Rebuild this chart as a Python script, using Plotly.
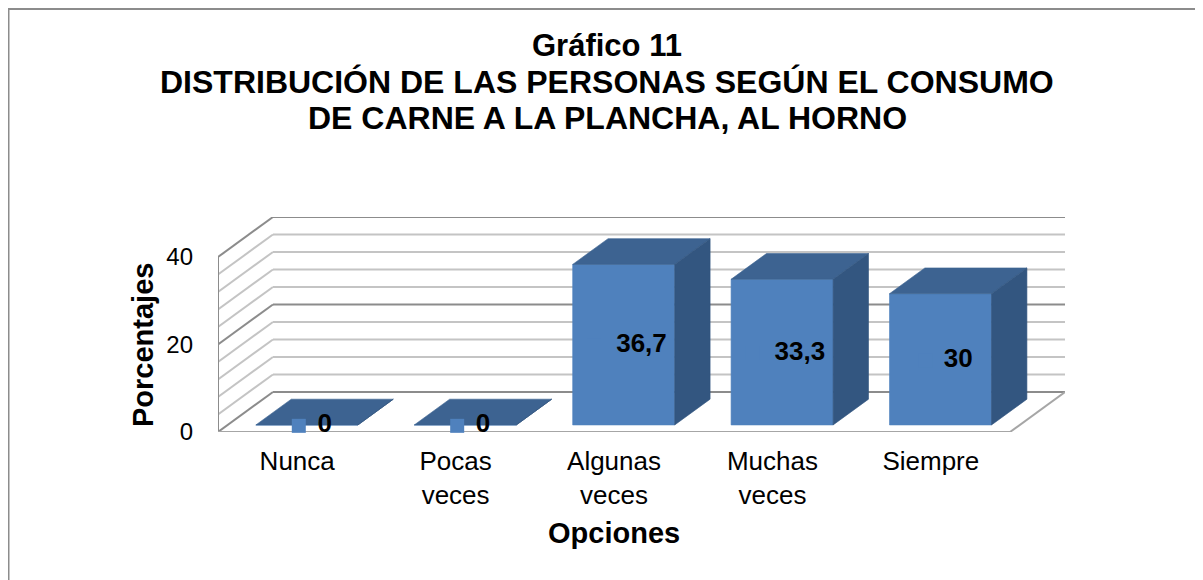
import plotly.graph_objects as go

# ---------------- data ----------------
categories = ["Nunca", "Pocas<br>veces", "Algunas<br>veces", "Muchas<br>veces", "Siempre"]
values = [0, 0, 36.7, 33.3, 30]
y_tick_values = [0, 20, 40]
y_tick_labels = ["0", "20", "40"]
grid_values = list(range(0, 41, 4))
major_grid = [0, 20, 40]
title_lines = ["Gráfico 11",
               "DISTRIBUCIÓN DE LAS PERSONAS SEGÚN EL CONSUMO",
               "DE CARNE A LA PLANCHA, AL HORNO"]
x_title = "Opciones"
y_title = "Porcentajes"

# ---------------- geometry / style ----------------
OFF = 8                        # page body margin of the html output
W, H = 1203 - OFF, 580 - OFF
ML, MT = 218 - OFF, 217 - OFF
MR, MB = W - (1065 - OFF), H - (432 - OFF)
PW, PH = W - ML - MR, H - MT - MB
DX, DY = 0.347, 9.15          # depth offset of the 3D box (data units)
F0, F1 = 0.176, 0.82          # bar depth span (fraction of box depth)
BW = 0.644                    # bar width (category units)
XMIN, XMAX = -0.5, len(categories) - 0.5 + DX
YMAX = max(grid_values) + DY
PXX = PW / (XMAX - XMIN)
PXY = PH / YMAX

FRONT = "#4F81BD"
TOP = "#3D6391"
SIDE = "#335680"
GRID_MINOR = "#C4C4C4"
GRID_MAJOR = "#8C8C8C"
FONT = "Liberation Sans, Arial, Helvetica, sans-serif"


def px2paper(px, py):
    """page pixel -> paper coordinates"""
    return (px - OFF - ML) / PW, (H - MB - (py - OFF)) / PH


fig = go.Figure()


def poly(xs, ys, color):
    fig.add_trace(go.Scatter(x=xs + [xs[0]], y=ys + [ys[0]], mode="lines", fill="toself",
                             fillcolor=color, line=dict(color=color, width=0.6),
                             hoverinfo="skip", showlegend=False))


def lines(segs, color, width=2):
    xs, ys = [], []
    for (x0, y0, x1, y1) in segs:
        xs += [x0, x1, None]
        ys += [y0, y1, None]
    fig.add_trace(go.Scatter(x=xs, y=ys, mode="lines", line=dict(color=color, width=width),
                             hoverinfo="skip", showlegend=False, cliponaxis=False))


n = len(categories)
# floor
poly([XMIN, n - 0.5, n - 0.5 + DX, XMIN + DX], [0, 0, DY, DY], "#FFFFFF")

# back wall and side wall gridlines
minor = [v for v in grid_values if v not in major_grid]
lines([(XMIN + DX, v + DY, XMAX, v + DY) for v in minor] +
      [(XMIN, v, XMIN + DX, v + DY) for v in minor], GRID_MINOR)
lines([(XMIN + DX, v + DY, XMAX, v + DY) for v in major_grid] +
      [(XMIN, v, XMIN + DX, v + DY) for v in major_grid], GRID_MAJOR)
# front vertical axis
lines([(XMIN, 0, XMIN, max(grid_values))], GRID_MAJOR)
# floor edges
lines([(XMIN, 0, n - 0.5, 0), (n - 0.5, 0, n - 0.5 + DX, DY)], "#A6A6A6")

# bars
ddx, ddy = (F1 - F0) * DX, (F1 - F0) * DY
for i, v in enumerate(values):
    xl = i + F0 * DX - BW / 2
    xr = i + F0 * DX + BW / 2
    yb = F0 * DY
    yt = yb + v
    poly([xl, xr, xr, xl], [yb, yb, yt, yt], FRONT)
    poly([xl, xr, xr + ddx, xl + ddx], [yt, yt, yt + ddy, yt + ddy], TOP)
    poly([xr, xr + ddx, xr + ddx, xr], [yb, yb + ddy, yt + ddy, yt], SIDE)

# data labels with legend key
labels = [f"{v:g}".replace(".", ",") for v in values]
lab_x = [i + 0.5 * DX for i in range(n)]
lab_y = [F0 * DY + v / 2 - 0.2 for v in values]
key_x = [x - (len(t) * 7.2 + 11.7 + 7) / PXX for x, t in zip(lab_x, labels)]
fig.add_trace(go.Scatter(x=key_x, y=lab_y, mode="markers",
                         marker=dict(symbol="square", size=14, color=FRONT, line=dict(width=0)),
                         hoverinfo="skip", showlegend=False, cliponaxis=False))
fig.add_trace(go.Scatter(x=lab_x, y=lab_y, mode="text", text=[f"<b>{t}</b>" for t in labels],
                         textfont=dict(family=FONT, size=26, color="#000000"),
                         textposition="middle center", hoverinfo="skip",
                         showlegend=False, cliponaxis=False))

# titles
annotations = []
for txt, py, sz in zip(title_lines, [45, 82, 118], [31, 32, 32]):
    x, y = px2paper(607, py)
    annotations.append(dict(text=f"<b>{txt}</b>", x=x, y=y, xref="paper", yref="paper",
                            xanchor="center", yanchor="middle", showarrow=False,
                            font=dict(family=FONT, size=sz, color="#000000")))
x, y = px2paper(614, 533)
annotations.append(dict(text=f"<b>{x_title}</b>", x=x, y=y, xref="paper", yref="paper",
                        xanchor="center", yanchor="middle", showarrow=False,
                        font=dict(family=FONT, size=29, color="#000000")))
x, y = px2paper(143, 345)
annotations.append(dict(text=f"<b>{y_title}</b>", x=x, y=y, xref="paper", yref="paper",
                        xanchor="center", yanchor="middle", showarrow=False, textangle=-90,
                        font=dict(family=FONT, size=29, color="#000000")))

fx0, fy1 = px2paper(OFF, OFF + 0.5)
fx1, fy0 = px2paper(1203 + 20, 580 + 20)

fig.update_layout(
    width=W, height=H,
    margin=dict(l=ML, r=MR, t=MT, b=MB, pad=0),
    paper_bgcolor="#FFFFFF", plot_bgcolor="rgba(0,0,0,0)",
    showlegend=False,
    annotations=annotations,
    shapes=[dict(type="rect", xref="paper", yref="paper", x0=fx0, x1=fx1, y0=fy0, y1=fy1,
                 line=dict(color="#8C8C8C", width=3), fillcolor="rgba(0,0,0,0)", layer="below")],
    xaxis=dict(range=[XMIN, XMAX], tickvals=list(range(n)), ticktext=categories,
               showgrid=False, zeroline=False, showline=False, ticks="",
               tickfont=dict(family=FONT, size=26, color="#000000"),
               ticklabelstandoff=11, fixedrange=True),
    yaxis=dict(range=[0, YMAX], tickvals=y_tick_values, ticktext=y_tick_labels,
               showgrid=False, zeroline=False, showline=False, ticks="",
               tickfont=dict(family=FONT, size=24, color="#000000"),
               ticklabelstandoff=24, fixedrange=True),
)

fig.write_html("out.html")
